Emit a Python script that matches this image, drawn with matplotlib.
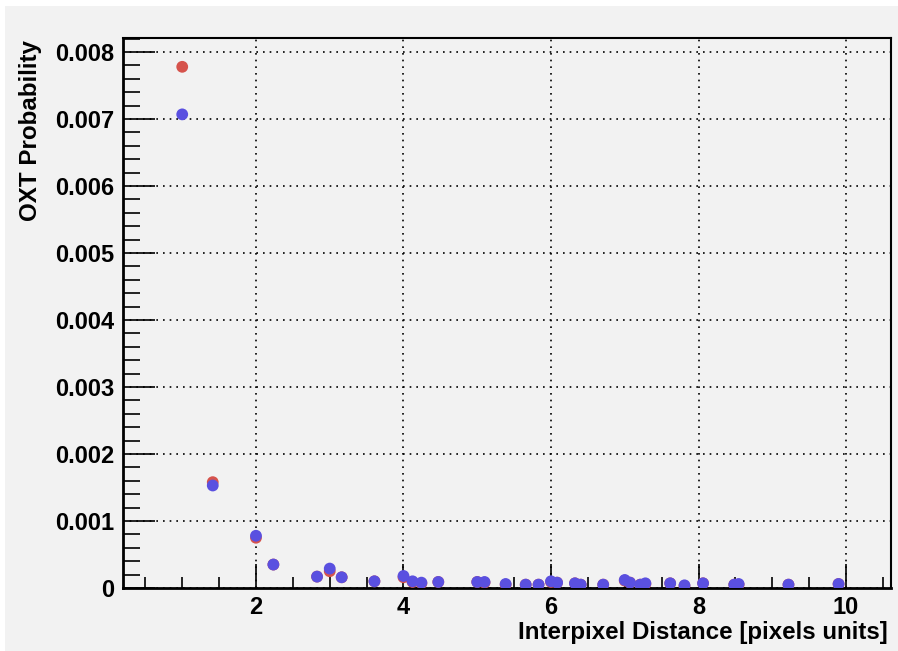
import matplotlib
matplotlib.use("Agg")
import matplotlib.pyplot as plt
from matplotlib.patches import Rectangle
from matplotlib.ticker import FuncFormatter, MultipleLocator

# interpixel distances (lattice units) and optical crosstalk probability per neighbour
distance = [1.0, 1.414, 2.0, 2.236, 2.828, 3.0, 3.162, 3.606, 4.0, 4.123, 4.243,
            4.472, 5.0, 5.099, 5.385, 5.657, 5.831, 6.0, 6.083, 6.325, 6.403,
            6.708, 7.0, 7.071, 7.211, 7.280, 7.616, 7.810, 8.062, 8.485, 8.544,
            9.220, 9.899]

prob_red = [0.00778, 0.00158, 0.00075, 0.00035, 0.00017, 0.00025, 0.00016,
            0.00010, 0.00016, 0.00009, 0.00007, 0.00009, 0.00009, 0.00008,
            0.00005, 0.00005, 0.00005, 0.00009, 0.00008, 0.00007, 0.00005,
            0.00005, 0.00011, 0.00008, 0.00005, 0.00006, 0.00007, 0.00003,
            0.00007, 0.00005, 0.00005, 0.00005, 0.00006]

prob_blue = [0.00707, 0.00153, 0.00078, 0.00035, 0.00017, 0.00029, 0.00016,
             0.00010, 0.00018, 0.00010, 0.00008, 0.00009, 0.00009, 0.00009,
             0.00006, 0.00005, 0.00005, 0.00010, 0.00008, 0.00007, 0.00005,
             0.00005, 0.00012, 0.00008, 0.00005, 0.00007, 0.00007, 0.00004,
             0.00007, 0.00005, 0.00006, 0.00005, 0.00006]

plt.rcParams["font.family"] = ["Liberation Sans", "DejaVu Sans"]
plt.rcParams["font.weight"] = "bold"

fig = plt.figure(figsize=(8.98, 6.51), dpi=100, facecolor="white")
fig.patches.append(Rectangle((5 / 898, 0), 893 / 898, 645 / 651, transform=fig.transFigure,
                             facecolor="#f2f2f2", edgecolor="none", zorder=-10))

ax = fig.add_axes([123 / 898, 63 / 651, 768 / 898, 550 / 651])
ax.set_facecolor("#f2f2f2")

ax.scatter(distance, prob_red, s=72, color="#d6534c", edgecolors="none", zorder=3)
ax.scatter(distance, prob_blue, s=72, color="#5a50e0", edgecolors="none", zorder=4)

ax.set_xlim(0.197, 10.61)
ax.set_ylim(0, 0.00821)

ax.xaxis.set_major_locator(MultipleLocator(2))
ax.xaxis.set_minor_locator(MultipleLocator(0.5))
ax.yaxis.set_major_locator(MultipleLocator(0.001))
ax.yaxis.set_minor_locator(MultipleLocator(0.0002))
ax.yaxis.set_major_formatter(FuncFormatter(lambda v, p: "0" if abs(v) < 1e-12 else f"{v:.3f}"))
ax.xaxis.set_major_formatter(FuncFormatter(lambda v, p: f"{v:g}"))

ax.tick_params(axis="both", which="both", direction="in", top=False, right=False,
               labelsize=17, width=1.2, color="black")
ax.tick_params(axis="y", which="major", length=23, pad=6)
ax.tick_params(axis="y", which="minor", length=12)
ax.tick_params(axis="x", which="major", length=17, pad=6)
ax.tick_params(axis="x", which="minor", length=8)
for lbl in ax.get_xticklabels() + ax.get_yticklabels():
    lbl.set_fontweight("bold")

ax.grid(True, which="major", color="black", linestyle=(0, (1, 3)), linewidth=1.2)
ax.set_axisbelow(True)

for side in ["left", "bottom"]:
    ax.spines[side].set_linewidth(2)
for side in ["top", "right"]:
    ax.spines[side].set_linewidth(1.5)

fig.text(888 / 898, 1 - 632 / 651, "Interpixel Distance [pixels units]", ha="right", va="center",
         fontsize=17.4, fontweight="bold")
fig.text(31 / 898, 1 - 40 / 651, "OXT Probability", ha="center", va="top", rotation=90,
         fontsize=17.4, fontweight="bold")

fig.savefig("out.png", dpi=100, facecolor="white")
